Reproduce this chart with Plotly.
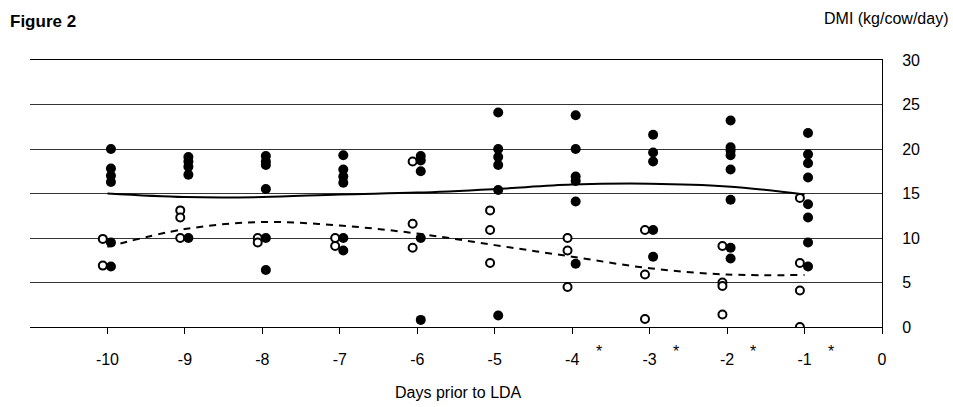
import plotly.graph_objects as go

days = [-10, -9, -8, -7, -6, -5, -4, -3, -2, -1]

# Individual cow DMI values (filled = one group, open = other group)
filled_vals = [
    [20.0, 17.8, 17.0, 16.3, 9.5, 6.8],
    [19.1, 18.6, 18.0, 17.1, 10.0],
    [19.2, 18.6, 18.2, 15.5, 10.0, 6.4],
    [19.3, 17.7, 16.9, 16.2, 10.0, 8.6],
    [19.2, 18.7, 17.5, 10.0, 0.8],
    [24.1, 20.0, 19.1, 18.2, 15.4, 1.3],
    [23.8, 20.0, 16.9, 16.4, 14.1, 7.1],
    [21.6, 19.6, 18.6, 10.9, 7.9],
    [23.2, 20.2, 19.8, 19.3, 17.7, 14.3, 8.9, 7.7],
    [21.8, 19.4, 18.4, 16.8, 13.8, 12.3, 9.5, 6.8],
]
open_vals = [
    [9.9, 6.9],
    [13.1, 12.3, 10.0],
    [10.0, 9.5],
    [10.0, 9.1],
    [18.6, 11.6, 8.9],
    [13.1, 10.9, 7.2],
    [10.0, 8.6, 4.5],
    [10.9, 5.9, 0.9],
    [9.1, 5.0, 4.6, 1.4],
    [14.5, 7.2, 4.1, 0.0],
]
# Smoothed group means
solid_curve = [15.0, 14.6, 14.6, 14.9, 15.1, 15.5, 16.0, 16.1, 15.8, 14.9]
dashed_curve = [9.0, 11.0, 11.8, 11.4, 10.5, 9.2, 7.9, 6.6, 5.9, 5.85]

star_days = [-4, -3, -2, -1]
x_ticks = [-10, -9, -8, -7, -6, -5, -4, -3, -2, -1, 0]
y_ticks = [0, 5, 10, 15, 20, 25, 30]

FONT = "Liberation Sans, Arial, sans-serif"

fx, fy, ox, oy = [], [], [], []
for d, vals in zip(days, filled_vals):
    fx += [d + 0.045] * len(vals)
    fy += vals
for d, vals in zip(days, open_vals):
    ox += [d - 0.06] * len(vals)
    oy += vals

fig = go.Figure()
fig.add_trace(go.Scatter(x=days, y=solid_curve, mode="lines", line=dict(color="black", width=2, shape="spline", smoothing=1.0), hoverinfo="skip"))
fig.add_trace(go.Scatter(x=days, y=dashed_curve, mode="lines", line=dict(color="black", width=2, dash="7px,6px", shape="spline", smoothing=1.0), hoverinfo="skip"))
fig.add_trace(go.Scatter(x=ox, y=oy, mode="markers", marker=dict(symbol="circle", size=8, color="white", line=dict(color="black", width=2))))
fig.add_trace(go.Scatter(x=fx, y=fy, mode="markers", marker=dict(symbol="circle", size=10, color="black", line=dict(width=0))))

L, R, T, B = 30, 71, 60, 80
W, H = 953, 407
pw, ph = W - L - R, H - T - B

def px(x):
    return (x - L) / pw

def py(y):
    return (H - B - y) / ph

annotations = [
    dict(text="<b>Figure 2</b>", xref="paper", yref="paper", x=px(8), y=py(21), xanchor="left", yanchor="middle", showarrow=False, font=dict(size=17, color="black", family=FONT)),
    dict(text="DMI (kg/cow/day)", xref="paper", yref="paper", x=px(950), y=py(18), xanchor="right", yanchor="middle", showarrow=False, font=dict(size=16, color="black", family=FONT)),
    dict(text="Days prior to LDA", xref="paper", yref="paper", x=px(458), y=py(392), xanchor="center", yanchor="middle", showarrow=False, font=dict(size=16, color="black", family=FONT)),
]
for d in star_days:
    annotations.append(dict(text="*", xref="x", yref="paper", x=d + 0.34, y=py(351), xanchor="center", yanchor="middle", showarrow=False, font=dict(size=16, color="black", family=FONT)))

fig.update_layout(
    width=W, height=H,
    margin=dict(l=L, r=R, t=T, b=B),
    plot_bgcolor="white", paper_bgcolor="white",
    showlegend=False,
    font=dict(family=FONT, size=16, color="black"),
    annotations=annotations,
    xaxis=dict(range=[-11, 0], tickvals=x_ticks, ticktext=[str(v) for v in x_ticks],
               showgrid=False, zeroline=False, showline=True, mirror=True, linecolor="black", linewidth=1,
               ticks="outside", ticklen=6, tickcolor="black", ticklabelstandoff=12,
               tickfont=dict(size=16, family=FONT)),
    yaxis=dict(range=[0, 30], side="right", tickvals=y_ticks, ticktext=[str(v) for v in y_ticks],
               showgrid=True, gridcolor="#333", gridwidth=1, zeroline=False,
               showline=True, linecolor="black", linewidth=1, ticks="", ticklabelstandoff=16,
               tickfont=dict(size=16, family=FONT)),
)

fig.write_html("out.html", config={"displayModeBar": False},
               post_script="document.body.style.margin='0';document.body.style.padding='0';")
